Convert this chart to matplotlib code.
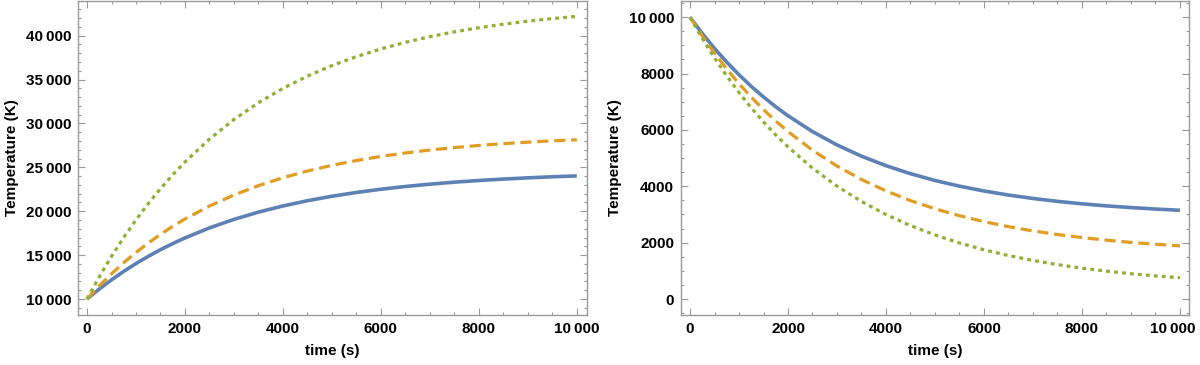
import numpy as np
import matplotlib
matplotlib.use('Agg')
import matplotlib.pyplot as plt
import matplotlib.transforms as mtransforms
from matplotlib.ticker import MultipleLocator, FuncFormatter

plt.rcParams['font.family'] = ['Liberation Sans', 'DejaVu Sans']
plt.rcParams['font.weight'] = 'bold'

# time samples (s)
time_s = [0, 250, 500, 750, 1000, 1250, 1500, 1750, 2000, 2500, 3000, 3500, 4000, 4500, 5000,
          5500, 6000, 6500, 7000, 7500, 8000, 8500, 9000, 9500, 10000]

# heating (left panel)
heat_solid = [10000, 11135, 12183, 13148, 14040, 14860, 15619, 16316, 16960, 18101, 19073,
              19899, 20601, 21198, 21706, 22138, 22506, 22818, 23083, 23310, 23501, 23664,
              23804, 23923, 24022]
heat_dashed = [10000, 11495, 12871, 14138, 15305, 16378, 17367, 18278, 19114, 20596, 21851,
               22915, 23817, 24582, 25229, 25777, 26242, 26637, 26971, 27253, 27494, 27697,
               27869, 28016, 28140]
heat_dotted = [10000, 12524, 14857, 17017, 19011, 20862, 22570, 24151, 25614, 28218, 30450,
               32360, 33994, 35393, 36589, 37614, 38490, 39240, 39885, 40434, 40906, 41307,
               41651, 41947, 42200]

# cooling (right panel)
cool_solid = [10000, 9422, 8892, 8404, 7957, 7545, 7168, 6822, 6503, 5941, 5468,
              5068, 4732, 4447, 4207, 4005, 3834, 3690, 3569, 3466, 3379, 3306,
              3245, 3193, 3149]
cool_dashed = [10000, 9336, 8724, 8160, 7640, 7162, 6722, 6315, 5942, 5279, 4718,
               4241, 3837, 3494, 3203, 2956, 2746, 2568, 2417, 2289, 2181, 2089,
               2010, 1944, 1887]
cool_dotted = [10000, 9248, 8555, 7917, 7327, 6784, 6284, 5823, 5398, 4645, 4005,
               3461, 2999, 2606, 2272, 1989, 1748, 1543, 1370, 1221, 1096, 990,
               898, 822, 756]

BLUE = '#5E81B5'
ORANGE = '#E19C24'
GREEN = '#8FB032'
FRAME = '#9a9a9a'


def fmt(v, pos):
    v = int(round(v))
    if abs(v) >= 10000:
        s = f'{v:d}'
        return s[:-3] + '\u2009' + s[-3:]
    return f'{v:d}'


def style(ax, ymaj, ymin):
    for sp in ax.spines.values():
        sp.set_color(FRAME)
        sp.set_linewidth(1.0)
    ax.xaxis.set_major_locator(MultipleLocator(2000))
    ax.xaxis.set_minor_locator(MultipleLocator(500))
    ax.yaxis.set_major_locator(MultipleLocator(ymaj))
    ax.yaxis.set_minor_locator(MultipleLocator(ymin))
    ax.xaxis.set_major_formatter(FuncFormatter(fmt))
    ax.yaxis.set_major_formatter(FuncFormatter(fmt))
    ax.tick_params(which='both', direction='in', top=True, right=True,
                   color=FRAME, width=0.8, labelsize=11, labelcolor='black')
    ax.tick_params(which='major', length=5, pad=5)
    ax.tick_params(which='minor', length=2.5)
    for lab in ax.get_xticklabels() + ax.get_yticklabels():
        lab.set_fontweight('bold')
    ax.set_xlabel('time (s)', fontsize=11, fontweight='bold', labelpad=6)
    ax.set_ylabel('Temperature (K)', fontsize=11, fontweight='bold', labelpad=5)


def draw(ax, s, d, o):
    ax.plot(time_s, s, color=BLUE, lw=2.6, solid_capstyle='butt')
    ax.plot(time_s, d, color=ORANGE, lw=2.3, dashes=(3.5, 1.8), dash_capstyle='butt')
    ax.plot(time_s, o, color=GREEN, lw=2.3, dashes=(1.2, 1.3), dash_capstyle='butt')


fig = plt.figure(figsize=(12, 3.65), dpi=100)
ax1 = fig.add_axes([0.065, 0.137, 0.424, 0.861])
ax2 = fig.add_axes([0.5675, 0.137, 0.4233, 0.861])

draw(ax1, heat_solid, heat_dashed, heat_dotted)
ax1.set_xlim(-184, 10204)
ax1.set_ylim(8180, 43980)
style(ax1, 5000, 1000)

draw(ax2, cool_solid, cool_dashed, cool_dotted)
ax2.set_xlim(-184, 10184)
ax2.set_ylim(-566, 10584)
style(ax2, 2000, 500)

# keep the last x label of the right panel inside the figure
fig.canvas.draw()
for tick in ax2.xaxis.get_major_ticks():
    if abs(tick.get_loc() - 10000) < 1:
        shift = mtransforms.ScaledTranslation(-7 / 100, 0, fig.dpi_scale_trans)
        tick.label1.set_transform(tick.label1.get_transform() + shift)

fig.savefig('out.png', dpi=100)
